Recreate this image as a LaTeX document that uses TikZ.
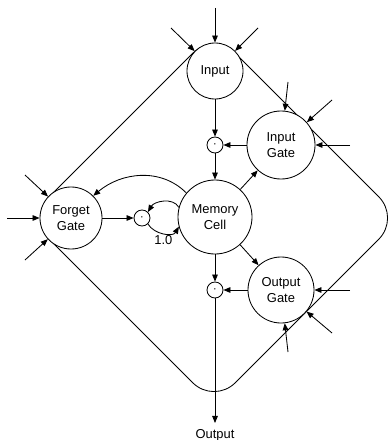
\documentclass[tikz,border=0pt]{standalone}
\usepackage{fontspec}
\setmainfont{Liberation Sans}
\usetikzlibrary{arrows.meta}

\begin{document}
\begin{tikzpicture}
[
x=0.025cm, y=-0.025cm,
every node/.style={font=\fontsize{9.2}{11.3}\selectfont},
Unit/.style={circle, draw=black, fill=white, line width=0.6pt, align=center, inner sep=0pt},
Dot/.style={circle, draw=black, fill=white, line width=0.6pt, inner sep=0pt, minimum size=0.4cm},
Arrow/.style={-{Triangle[length=5pt,width=4pt]}, draw=black, line width=0.6pt},
Border/.style={draw=black, line width=0.6pt, rounded corners=0.75cm},
Caption/.style={inner sep=0pt, outer sep=4.5pt},
Tag/.style={inner sep=1pt},
]

\useasboundingbox (0,0) rectangle (388,440);

% outer loop
\draw[Border] (121,125) -- (214,32) -- (400,218) -- (214,404) -- (28,218) -- cycle;

% units
\node[Unit, minimum size=1.4cm] (input) at (215,71) {Input};
\node[Unit, minimum size=1.7cm] (igate) at (281,145) {Input\\Gate};
\node[Unit, minimum size=1.85cm] (mcell) at (215,217) {Memory\\Cell};
\node[Unit, minimum size=1.55cm] (fgate) at (71,218) {Forget\\Gate};
\node[Unit, minimum size=1.65cm] (ogate) at (281,290) {Output\\Gate};

\node[Dot] (dotin) at (215,145) {$\cdot$};
\node[Dot] (dotf) at (142,218) {$\cdot$};
\node[Dot] (dotout) at (215,290) {$\cdot$};

\node[Caption, anchor=north] (output) at (215,423) {Output};

% free ends of incoming arrows
\coordinate (in1) at (171,28);
\coordinate (in2) at (215,8);
\coordinate (in3) at (258,28);
\coordinate (ig1) at (288,82);
\coordinate (ig2) at (332,100);
\coordinate (ig3) at (350,145);
\coordinate (og1) at (350,290);
\coordinate (og2) at (332,333);
\coordinate (og3) at (288,352);
\coordinate (fg1) at (25,175);
\coordinate (fg2) at (7,218);
\coordinate (fg3) at (25,260);

\draw[Arrow] (in1) -- (input);
\draw[Arrow] (in2) -- (input);
\draw[Arrow] (in3) -- (input);
\draw[Arrow] (ig1) -- (igate);
\draw[Arrow] (ig2) -- (igate);
\draw[Arrow] (ig3) -- (igate);
\draw[Arrow] (og1) -- (ogate);
\draw[Arrow] (og2) -- (ogate);
\draw[Arrow] (og3) -- (ogate);
\draw[Arrow] (fg1) -- (fgate);
\draw[Arrow] (fg2) -- (fgate);
\draw[Arrow] (fg3) -- (fgate);

% inside
\draw[Arrow] (input) -- (dotin);
\draw[Arrow] (igate) -- (dotin);
\draw[Arrow] (dotin) -- (mcell);
\draw[Arrow] (mcell) -- (igate);
\draw[Arrow] (mcell) -- (ogate);
\draw[Arrow] (mcell) -- (dotout);
\draw[Arrow] (ogate) -- (dotout);
\draw[Arrow] (fgate) -- (dotf);
\draw[Arrow] (dotout) -- (output);

\draw[Arrow] (mcell.140) to[out=135,in=40] (fgate.45);
\draw[Arrow] (mcell.165) to[out=120,in=60] (dotf.45);
\draw[Arrow] (dotf.-45) to[out=-60,in=-120] node[Tag, below, pos=0.5] (weight) {1.0} (mcell.195);

\end{tikzpicture}
\end{document}
